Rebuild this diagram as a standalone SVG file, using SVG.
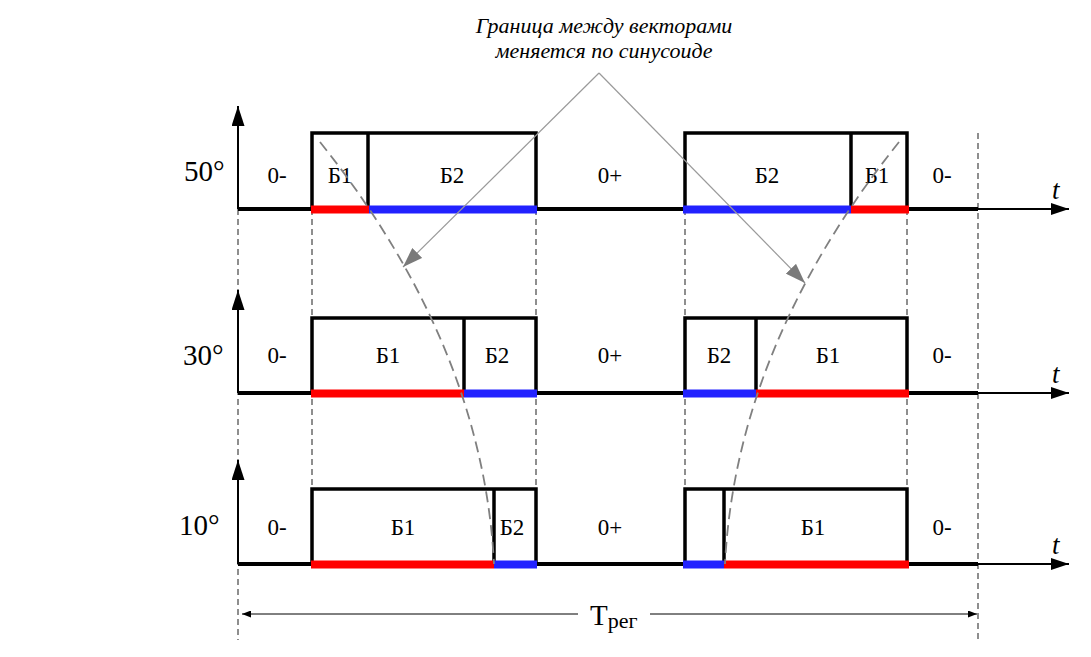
<svg xmlns="http://www.w3.org/2000/svg" width="1091" height="657" viewBox="0 0 1091 657">
<style>
.lbl{font-family:"Liberation Serif","Times New Roman",serif;font-size:23px;text-anchor:middle;fill:#000}
.deg{font-family:"Liberation Serif","Times New Roman",serif;font-size:29px;fill:#000}
.tt{font-family:"Liberation Serif","Times New Roman",serif;font-style:italic;font-size:27px;fill:#000}
.note{font-family:"Liberation Serif","Times New Roman",serif;font-style:italic;font-size:22px;text-anchor:middle;fill:#000}
.base{stroke:#000;stroke-width:4;fill:none}
.axis{stroke:#000;stroke-width:2;fill:none}
.box{stroke:#000;stroke-width:3.5;fill:none;stroke-linejoin:miter}
.red{stroke:#ff0000;stroke-width:8}
.blue{stroke:#2222ff;stroke-width:8}
.vdash{stroke:#444;stroke-width:1.2;stroke-dasharray:6,4;fill:none}
.curve{stroke:#808080;stroke-width:1.8;stroke-dasharray:11,6;fill:none}
.ptr{stroke:#9a9a9a;stroke-width:1.2;fill:none}
.thin{stroke:#000;stroke-width:1;fill:none}
</style>
<defs>
<marker id="up" viewBox="0 0 20 13" refX="20" refY="6.5" markerWidth="20" markerHeight="13" markerUnits="userSpaceOnUse" orient="auto">
<path d="M0,0 L20,6.5 L0,13 Z" fill="#000"/>
</marker>
<marker id="ah" viewBox="0 0 18 12" refX="18" refY="6" markerWidth="18" markerHeight="12" markerUnits="userSpaceOnUse" orient="auto">
<path d="M0,0 L18,6 L0,12 Z" fill="#000"/>
</marker>
<marker id="sm" viewBox="0 0 9 7" refX="9" refY="3.5" markerWidth="9" markerHeight="7" markerUnits="userSpaceOnUse" orient="auto">
<path d="M0,0 L9,3.5 L0,7 Z" fill="#000"/>
</marker>
<marker id="ga" viewBox="0 0 20 14" refX="20" refY="7" markerWidth="20" markerHeight="14" markerUnits="userSpaceOnUse" orient="auto">
<path d="M0,0 L20,7 L0,14 Z" fill="#7a7a7a"/>
</marker>
</defs>

<g id="guides">
<line class="vdash" x1="238" y1="209" x2="238" y2="640"/>
<line class="vdash" x1="312" y1="209" x2="312" y2="489"/>
<line class="vdash" x1="536" y1="209" x2="536" y2="489"/>
<line class="vdash" x1="685" y1="209" x2="685" y2="489"/>
<line class="vdash" x1="907" y1="209" x2="907" y2="489"/>
<line class="vdash" x1="978" y1="133" x2="978" y2="640"/>
</g>

<g id="row50">
<line class="axis" x1="238" y1="209" x2="238" y2="106" marker-end="url(#up)"/>
<line class="axis" x1="978" y1="209" x2="1069" y2="209" marker-end="url(#ah)"/>
<line class="base" x1="238" y1="209" x2="978" y2="209"/>
<polyline class="box" points="312,209 312,133 536,133 536,209"/>
<line class="box" x1="368" y1="133" x2="368" y2="209"/>
<polyline class="box" points="685,209 685,133 907,133 907,209"/>
<line class="box" x1="851" y1="133" x2="851" y2="209"/>
<line class="red" x1="311" y1="209.5" x2="369" y2="209.5"/>
<line class="blue" x1="369" y1="209.5" x2="537" y2="209.5"/>
<line class="blue" x1="683" y1="209.5" x2="851" y2="209.5"/>
<line class="red" x1="851" y1="209.5" x2="909" y2="209.5"/>
<text class="deg" x="184" y="181">50°</text>
<text class="lbl" x="277" y="183">0-</text>
<text class="lbl" x="340" y="183">Б1</text>
<text class="lbl" x="452" y="183">Б2</text>
<text class="lbl" x="610" y="183">0+</text>
<text class="lbl" x="767" y="183">Б2</text>
<text class="lbl" x="877" y="183">Б1</text>
<text class="lbl" x="942" y="183">0-</text>
<text class="tt" x="1052" y="199">t</text>
</g>

<g id="row30">
<line class="axis" x1="238" y1="393" x2="238" y2="290" marker-end="url(#up)"/>
<line class="axis" x1="978" y1="393" x2="1069" y2="393" marker-end="url(#ah)"/>
<line class="base" x1="238" y1="393" x2="978" y2="393"/>
<polyline class="box" points="312,393 312,318 536,318 536,393"/>
<line class="box" x1="464" y1="318" x2="464" y2="393"/>
<polyline class="box" points="685,393 685,318 907,318 907,393"/>
<line class="box" x1="756" y1="318" x2="756" y2="393"/>
<line class="red" x1="311" y1="393.5" x2="464" y2="393.5"/>
<line class="blue" x1="464" y1="393.5" x2="537" y2="393.5"/>
<line class="blue" x1="683" y1="393.5" x2="756" y2="393.5"/>
<line class="red" x1="756" y1="393.5" x2="909" y2="393.5"/>
<text class="deg" x="183" y="365">30°</text>
<text class="lbl" x="277" y="363">0-</text>
<text class="lbl" x="388" y="363">Б1</text>
<text class="lbl" x="497" y="363">Б2</text>
<text class="lbl" x="610" y="363">0+</text>
<text class="lbl" x="719" y="363">Б2</text>
<text class="lbl" x="828" y="363">Б1</text>
<text class="lbl" x="942" y="363">0-</text>
<text class="tt" x="1052" y="383">t</text>
</g>

<g id="row10">
<line class="axis" x1="238" y1="564" x2="238" y2="460" marker-end="url(#up)"/>
<line class="axis" x1="978" y1="564" x2="1069" y2="564" marker-end="url(#ah)"/>
<line class="base" x1="238" y1="564" x2="978" y2="564"/>
<polyline class="box" points="312,564 312,489 536,489 536,564"/>
<line class="box" x1="494" y1="489" x2="494" y2="564"/>
<polyline class="box" points="685,564 685,489 907,489 907,564"/>
<line class="box" x1="724" y1="489" x2="724" y2="564"/>
<line class="red" x1="311" y1="564.5" x2="494" y2="564.5"/>
<line class="blue" x1="494" y1="564.5" x2="537" y2="564.5"/>
<line class="blue" x1="683" y1="564.5" x2="724" y2="564.5"/>
<line class="red" x1="724" y1="564.5" x2="909" y2="564.5"/>
<text class="deg" x="179" y="535">10°</text>
<text class="lbl" x="277" y="535">0-</text>
<text class="lbl" x="403" y="535">Б1</text>
<text class="lbl" x="512" y="535">Б2</text>
<text class="lbl" x="610" y="535">0+</text>
<text class="lbl" x="813" y="535">Б1</text>
<text class="lbl" x="942" y="535">0-</text>
<text class="tt" x="1052" y="554">t</text>
</g>

<g id="boundary">
<path class="curve" d="M320,142 C432,282 487,424 494,564"/>
<path class="curve" d="M899,142 C787,282 732,424 725,564"/>
</g>

<g id="note">
<text class="note" x="604" y="33">Граница между векторами</text>
<text class="note" x="604" y="58">меняется по синусоиде</text>
</g>

<g id="connectors">
<line class="ptr" x1="599" y1="73" x2="403" y2="267" marker-end="url(#ga)"/>
<line class="ptr" x1="599" y1="73" x2="805" y2="283" marker-end="url(#ga)"/>
</g>

<g id="period">
<line class="thin" x1="578" y1="614" x2="242" y2="614" marker-end="url(#sm)"/>
<line class="thin" x1="650" y1="614" x2="977" y2="614" marker-end="url(#sm)"/>
<text class="deg" x="590" y="625" font-size="30">T<tspan font-size="22" dy="3">рег</tspan></text>
</g>
</svg>
